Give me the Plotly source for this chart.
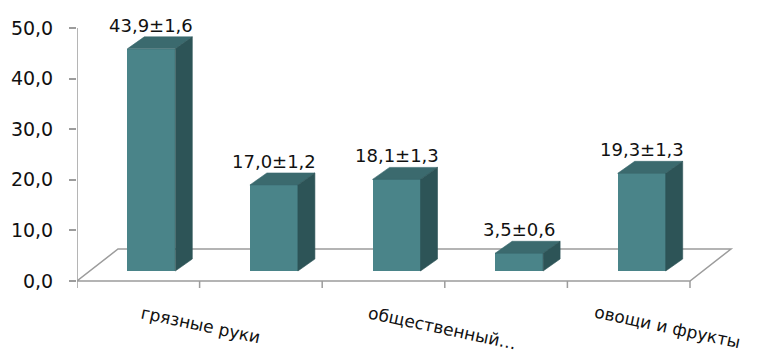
import plotly.graph_objects as go

# Data: share of cases by transmission route, %, mean ± error
axis_labels = ["грязные руки", "", "общественный…", "", "овощи и фрукты"]
means = [43.9, 17.0, 18.1, 3.5, 19.3]
errors = [1.6, 1.2, 1.3, 0.6, 1.3]
y_ticks = [0, 10, 20, 30, 40, 50]
y_tick_text = ["0,0", "10,0", "20,0", "30,0", "40,0", "50,0"]

# Colours of the pseudo-3D bars
FRONT = "#4A8489"
TOP = "#3B6A6E"
SIDE = "#2D5457"
GRID = "#9C9C9C"
FONT = "DejaVu Sans"

# Pixel scale of the axes (used to express depth offsets in data units)
W, H = 757, 359
M_LEFT = 77
PX_X = 122.6           # pixels per category
PX_Y = 5.06            # pixels per percent
Y0_PX = 281            # pixel row of the value 0

x_range = [-0.5, -0.5 + (W - M_LEFT) / PX_X]
y_range = [-(H - Y0_PX) / PX_Y, Y0_PX / PX_Y]

FLOOR_DX, FLOOR_DY = 41 / PX_X, 32 / PX_Y   # depth of the floor
BAR_OX, BAR_OY = 13 / PX_X, 10 / PX_Y       # front face offset into the floor
BAR_DX, BAR_DY = 17 / PX_X, 12 / PX_Y       # depth of each bar
HALF_W = 24 / PX_X
n = len(means)

fig = go.Figure()

# Front faces
fig.add_trace(go.Bar(
    x=[i + BAR_OX for i in range(n)], y=means, base=BAR_OY,
    width=2 * HALF_W, marker=dict(color=FRONT, line=dict(width=0)),
    hoverinfo="skip", showlegend=False,
))

# Top and side faces
for i, m in enumerate(means):
    xl = i + BAR_OX - HALF_W
    xr = i + BAR_OX + HALF_W
    yb = BAR_OY
    yt = BAR_OY + m
    fig.add_trace(go.Scatter(
        x=[xl, xr, xr + BAR_DX, xl + BAR_DX, xl],
        y=[yt, yt, yt + BAR_DY, yt + BAR_DY, yt],
        mode="lines", fill="toself", fillcolor=TOP, line=dict(width=0.6, color=TOP),
        hoverinfo="skip", showlegend=False,
    ))
    fig.add_trace(go.Scatter(
        x=[xr, xr + BAR_DX, xr + BAR_DX, xr, xr],
        y=[yb, yb + BAR_DY, yt + BAR_DY, yt, yb],
        mode="lines", fill="toself", fillcolor=SIDE, line=dict(width=0.6, color=SIDE),
        hoverinfo="skip", showlegend=False,
    ))

# Floor, axis line and category ticks
x0, x1 = -0.5, n - 0.5
shapes = [
    dict(type="path", xref="x", yref="y", layer="below",
         path=f"M {x0},0 L {x1},0 L {x1 + FLOOR_DX},{FLOOR_DY} L {x0 + FLOOR_DX},{FLOOR_DY} Z",
         line=dict(color=GRID, width=1.5), fillcolor="white"),
    dict(type="line", xref="x", yref="y", x0=x0, x1=x0, y0=0, y1=max(y_ticks),
         line=dict(color=GRID, width=1.5)),
]
for k in range(n + 1):
    shapes.append(dict(type="line", xref="x", yref="y", x0=x0 + k, x1=x0 + k,
                       y0=0, y1=-7 / PX_Y, line=dict(color=GRID, width=1.5)))

annotations = []
# Value labels above each bar
for i, (m, e) in enumerate(zip(means, errors)):
    txt = f"{m:.1f}±{e:.1f}".replace(".", ",")
    annotations.append(dict(
        x=i + BAR_OX, y=BAR_OY + m + BAR_DY, xref="x", yref="y",
        text=txt, showarrow=False, xanchor="center", yanchor="bottom", yshift=-1,
        font=dict(family=FONT, size=18, color="#111111"),
    ))
# Slanted category labels
for i, lab in enumerate(axis_labels):
    if not lab:
        continue
    annotations.append(dict(
        x=i, y=-20 / PX_Y, xref="x", yref="y", text=lab, showarrow=False,
        xanchor="left", yanchor="top", xshift=-9.3 * i, textangle=12,
        borderpad=0,
        font=dict(family=FONT, size=17, color="#111111"),
    ))

fig.update_layout(
    width=W, height=H,
    margin=dict(l=M_LEFT, r=0, t=0, b=0),
    paper_bgcolor="white", plot_bgcolor="white",
    bargap=0, showlegend=False,
    shapes=shapes, annotations=annotations,
    xaxis=dict(range=x_range, visible=False, fixedrange=True),
    yaxis=dict(range=y_range, tickvals=y_ticks, ticktext=y_tick_text,
               ticks="outside", ticklen=7, tickwidth=1.5, tickcolor=GRID,
               ticklabelstandoff=12,
               showgrid=False, zeroline=False, showline=False,
               tickfont=dict(family=FONT, size=19, color="#111111"),
               fixedrange=True),
)

fig.write_html("out.html")
